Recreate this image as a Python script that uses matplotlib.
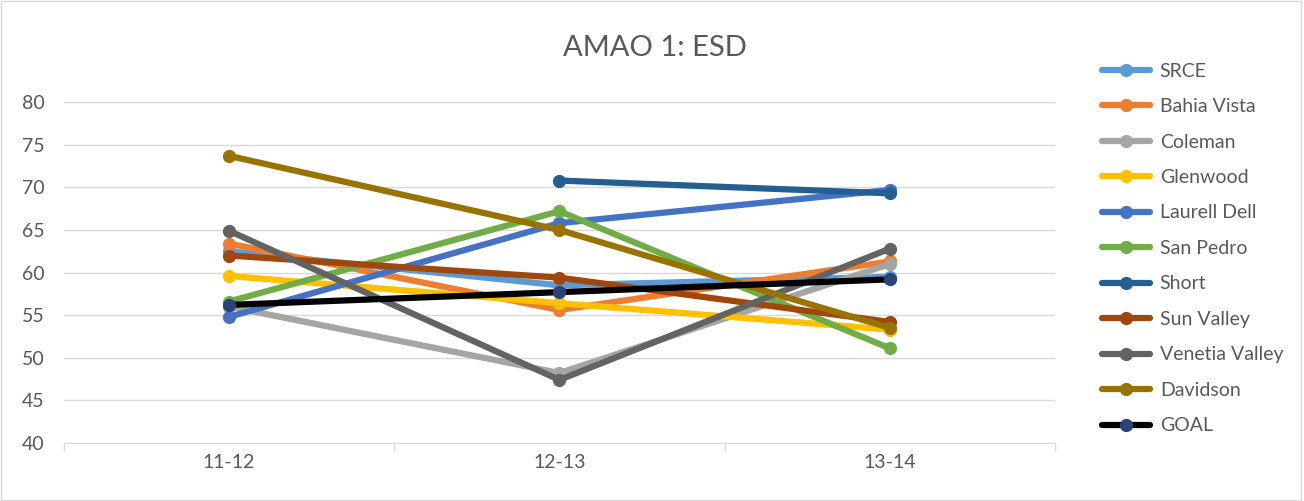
import numpy as np
import matplotlib
matplotlib.use("Agg")
import matplotlib.pyplot as plt

years = ["11-12", "12-13", "13-14"]

srce = [62.5, 58.5, 59.5]
bahia_vista = [63.4, 55.6, 61.3]
coleman = [56.0, 48.2, 61.0]
glenwood = [59.6, 56.4, 53.3]
laurell_dell = [54.8, 65.8, 69.7]
san_pedro = [56.6, 67.2, 51.1]
short = [np.nan, 70.8, 69.3]
sun_valley = [62.0, 59.4, 54.2]
venetia_valley = [64.9, 47.4, 62.8]
davidson = [73.7, 65.0, 53.5]
goal = [56.2, 57.7, 59.2]

series = [
    ("SRCE", srce, "#5B9BD5", "#5B9BD5"),
    ("Bahia Vista", bahia_vista, "#ED7D31", "#ED7D31"),
    ("Coleman", coleman, "#A5A5A5", "#A5A5A5"),
    ("Glenwood", glenwood, "#FFC000", "#FFC000"),
    ("Laurell Dell", laurell_dell, "#4472C4", "#4472C4"),
    ("San Pedro", san_pedro, "#70AD47", "#70AD47"),
    ("Short", short, "#255E91", "#255E91"),
    ("Sun Valley", sun_valley, "#9E480E", "#9E480E"),
    ("Venetia Valley", venetia_valley, "#636363", "#636363"),
    ("Davidson", davidson, "#997300", "#997300"),
    ("GOAL", goal, "#000000", "#264478"),
]

plt.rcParams["font.family"] = ["Lato", "DejaVu Sans"]

fig = plt.figure(figsize=(13.04, 5.01), dpi=100)
ax = fig.add_axes([0.049, 0.116, 0.760, 0.680])

x = np.arange(len(years))
for name, vals, col, mcol in series:
    ax.plot(x, vals, color=col, lw=4.5, marker="o", ms=8.5,
            markerfacecolor=mcol, markeredgecolor=mcol, label=name,
            solid_capstyle="round")

ax.set_xlim(-0.5, 2.5)
ax.set_ylim(40, 80)
ax.set_yticks(range(40, 81, 5))
ax.set_xticks(x)
ax.set_xticklabels(years)
ax.set_xticks([-0.5, 0.5, 1.5, 2.5], minor=True)
ax.tick_params(axis="x", which="major", length=0, labelsize=14, colors="#595959", pad=8)
ax.tick_params(axis="x", which="minor", length=6, color="#D9D9D9", width=1)
ax.tick_params(axis="y", length=0, labelsize=14, colors="#595959", pad=14)
ax.grid(axis="y", color="#D9D9D9", lw=1)
ax.set_axisbelow(True)
for s in ["top", "right", "left"]:
    ax.spines[s].set_visible(False)
ax.spines["bottom"].set_color("#D9D9D9")

fig.text(0.502, 0.905, "AMAO 1: ESD", ha="center", va="center",
         fontsize=21, color="#595959")

ax.legend(loc="upper left", bbox_to_anchor=(0.832, 0.910),
          bbox_transform=fig.transFigure, frameon=False, fontsize=14,
          handlelength=2.45, labelspacing=0.95, handletextpad=0.5,
          labelcolor="#595959")

fig.patches.append(plt.Rectangle((0.001, 0.002), 0.997, 0.996, transform=fig.transFigure,
                                 fill=False, edgecolor="#D9D9D9", lw=1))

fig.savefig("out.png", dpi=100)
